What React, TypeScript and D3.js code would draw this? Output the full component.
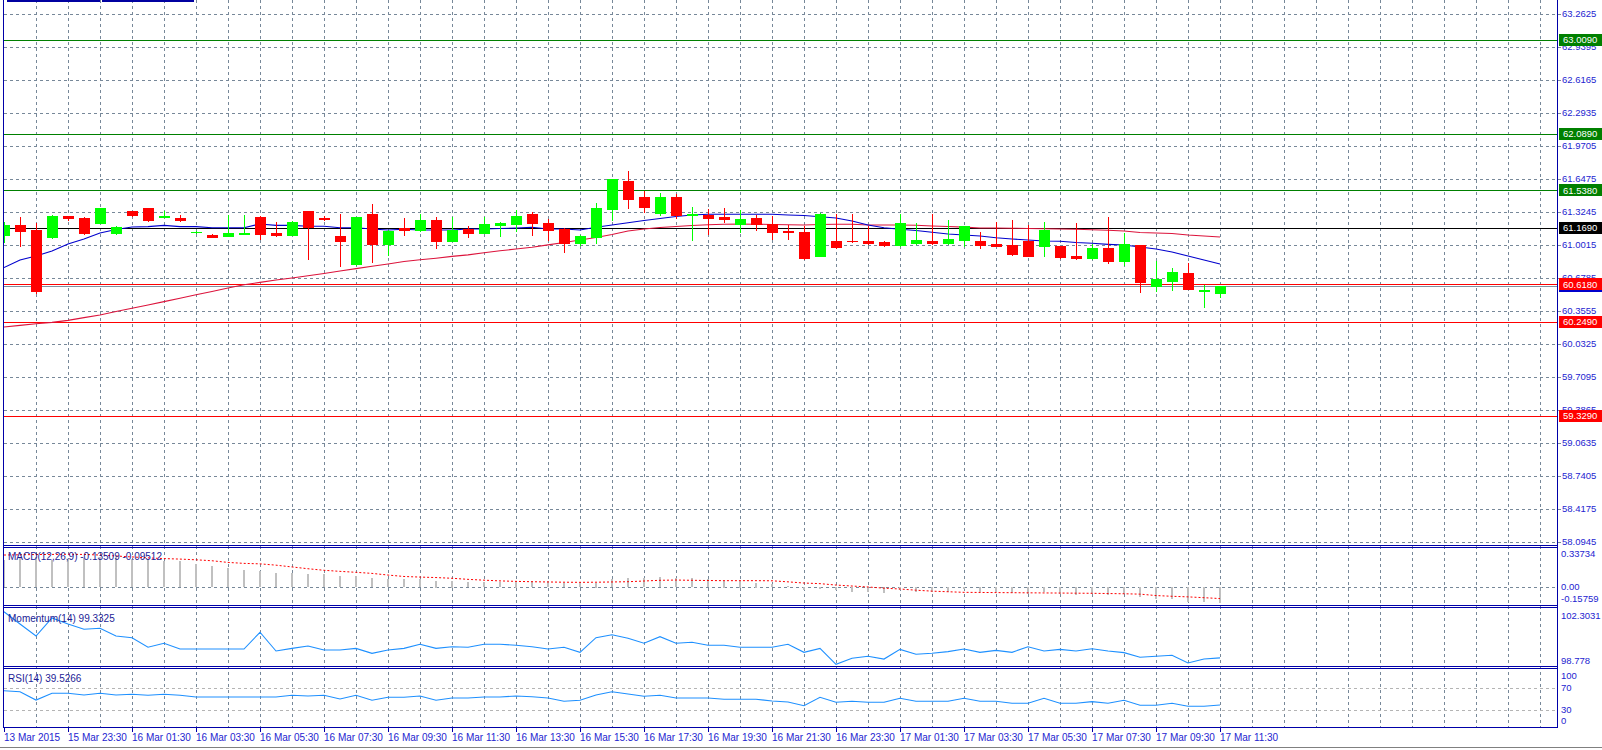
import React from 'react';
import * as d3 from 'd3';

// ---------- DATA ----------
const timeLabels = [
  '13 Mar 2015', '15 Mar 23:30', '16 Mar 01:30', '16 Mar 03:30', '16 Mar 05:30',
  '16 Mar 07:30', '16 Mar 09:30', '16 Mar 11:30', '16 Mar 13:30', '16 Mar 15:30',
  '16 Mar 17:30', '16 Mar 19:30', '16 Mar 21:30', '16 Mar 23:30', '17 Mar 01:30',
  '17 Mar 03:30', '17 Mar 05:30', '17 Mar 07:30', '17 Mar 09:30', '17 Mar 11:30',
];

const openP = [
  61.099, 61.197, 61.148, 61.080, 61.285, 61.266, 61.217, 61.119, 61.334, 61.364,
  61.280, 61.266, 61.124, 61.099, 61.090, 61.114, 61.276, 61.119, 61.099, 61.334,
  61.266, 61.090, 60.816, 61.305, 61.011, 61.165, 61.148, 61.246, 61.041, 61.161,
  61.122, 61.197, 61.207, 61.305, 61.217, 61.161, 61.021, 61.080, 61.354, 61.628,
  61.471, 61.315, 61.471, 61.298, 61.295, 61.276, 61.207, 61.266, 61.207, 61.134,
  61.129, 60.894, 61.041, 61.044, 61.041, 61.031, 61.001, 61.021, 61.041, 61.021,
  61.050, 61.041, 61.011, 61.001, 61.041, 60.992, 60.992, 60.894, 60.874, 60.972,
  60.845, 61.001, 60.600, 60.649, 60.727, 60.556, 60.532,
];
const highP = [
  61.230, 61.276, 61.214, 61.295, 61.290, 61.271, 61.368, 61.183, 61.339, 61.368,
  61.334, 61.295, 61.134, 61.109, 61.295, 61.295, 61.285, 61.227, 61.232, 61.339,
  61.285, 61.305, 61.280, 61.403, 61.144, 61.266, 61.305, 61.272, 61.276, 61.187,
  61.276, 61.222, 61.344, 61.325, 61.256, 61.168, 61.095, 61.413, 61.652, 61.726,
  61.530, 61.510, 61.501, 61.373, 61.354, 61.364, 61.344, 61.295, 61.285, 61.197,
  61.187, 61.310, 61.305, 61.305, 61.187, 61.036, 61.305, 61.217, 61.305, 61.246,
  61.192, 61.129, 61.227, 61.246, 61.197, 61.227, 60.996, 61.217, 61.011, 61.276,
  61.119, 61.006, 60.845, 60.776, 60.822, 60.610, 60.605,
];
const lowP = [
  61.034, 60.995, 60.529, 61.070, 61.246, 61.114, 61.212, 61.114, 61.290, 61.241,
  61.276, 61.241, 61.119, 61.075, 61.085, 61.109, 61.060, 61.090, 61.095, 60.864,
  61.246, 60.796, 60.806, 60.835, 60.904, 61.099, 61.143, 60.977, 61.036, 61.080,
  61.119, 61.090, 61.139, 61.099, 61.050, 60.936, 61.001, 61.021, 61.246, 61.364,
  61.324, 61.295, 61.266, 61.050, 61.109, 61.227, 61.129, 61.148, 61.060, 61.060,
  60.869, 60.889, 60.977, 61.031, 61.016, 60.996, 60.996, 61.011, 61.016, 61.016,
  60.992, 60.972, 60.987, 60.908, 60.889, 60.894, 60.879, 60.864, 60.869, 60.825,
  60.806, 60.539, 60.551, 60.561, 60.566, 60.398, 60.492,
];
const closeP = [
  61.197, 61.141, 60.554, 61.285, 61.266, 61.119, 61.364, 61.178, 61.295, 61.246,
  61.285, 61.246, 61.129, 61.080, 61.119, 61.119, 61.109, 61.099, 61.227, 61.178,
  61.259, 61.041, 61.276, 61.011, 61.139, 61.148, 61.246, 61.041, 61.148, 61.122,
  61.207, 61.217, 61.285, 61.217, 61.148, 61.021, 61.090, 61.364, 61.647, 61.452,
  61.373, 61.471, 61.295, 61.302, 61.266, 61.256, 61.256, 61.207, 61.129, 61.126,
  60.874, 61.305, 60.982, 61.038, 61.021, 61.001, 61.217, 61.050, 61.021, 61.060,
  61.187, 61.001, 60.992, 60.913, 60.894, 61.148, 60.884, 60.874, 60.972, 60.845,
  61.011, 60.639, 60.669, 60.737, 60.571, 60.561, 60.600,
];

const maFast = [
  60.781, 60.855, 60.894, 60.943, 61.011, 61.060, 61.119, 61.153, 61.178, 61.181,
  61.194, 61.181, 61.181, 61.171, 61.171, 61.171, 61.207, 61.194, 61.194, 61.185,
  61.185, 61.171, 61.171, 61.158, 61.148, 61.155, 61.148, 61.148, 61.148, 61.158,
  61.158, 61.163, 61.168, 61.175, 61.158, 61.158, 61.148, 61.175, 61.197, 61.220,
  61.241, 61.261, 61.280, 61.295, 61.302, 61.302, 61.302, 61.302, 61.302, 61.295,
  61.290, 61.278, 61.266, 61.236, 61.197, 61.171, 61.155, 61.143, 61.126, 61.109,
  61.099, 61.090, 61.073, 61.060, 61.050, 61.041, 61.038, 61.026, 61.018, 61.008,
  61.001, 60.982, 60.962, 60.933, 60.894, 60.855, 60.816,
];
const maSlow = [
  60.199, 60.215, 60.230, 60.244, 60.264, 60.291, 60.316, 60.350, 60.383, 60.414,
  60.447, 60.481, 60.514, 60.546, 60.581, 60.612, 60.636, 60.659, 60.678, 60.700,
  60.723, 60.747, 60.770, 60.793, 60.816, 60.840, 60.857, 60.872, 60.890, 60.905,
  60.925, 60.945, 60.962, 60.980, 61.003, 61.026, 61.050, 61.075, 61.104, 61.138,
  61.158, 61.173, 61.182, 61.192, 61.199, 61.205, 61.207, 61.205, 61.202, 61.199,
  61.197, 61.202, 61.205, 61.205, 61.197, 61.197, 61.197, 61.195, 61.187, 61.182,
  61.176, 61.168, 61.168, 61.166, 61.163, 61.160, 61.158, 61.156, 61.151, 61.146,
  61.138, 61.124, 61.119, 61.114, 61.099, 61.090, 61.080,
];

const macdMain = [
  0.228, 0.251, 0.251, 0.228, 0.234, 0.242, 0.251, 0.251, 0.237, 0.237,
  0.222, 0.220, 0.195, 0.178, 0.161, 0.144, 0.136, 0.119, 0.117, 0.108,
  0.108, 0.094, 0.094, 0.077, 0.069, 0.069, 0.066, 0.055, 0.055, 0.044,
  0.044, 0.044, 0.055, 0.049, 0.049, 0.033, 0.033, 0.038, 0.071, 0.077,
  0.077, 0.088, 0.077, 0.077, 0.071, 0.055, 0.055, 0.038, 0.027, 0.010,
  -0.029, -0.013, -0.023, -0.038, -0.043, -0.051, -0.029, -0.043, -0.043, -0.038,
  -0.018, -0.038, -0.043, -0.051, -0.060, -0.046, -0.057, -0.065, -0.057, -0.065,
  -0.060, -0.085, -0.102, -0.102, -0.122, -0.127, -0.13509,
];
const macdSignal = [
  0.270, 0.272, 0.274, 0.275, 0.276, 0.275, 0.270, 0.262, 0.254, 0.246,
  0.240, 0.236, 0.230, 0.222, 0.208, 0.200, 0.196, 0.185, 0.170, 0.155,
  0.142, 0.133, 0.125, 0.116, 0.102, 0.090, 0.085, 0.081, 0.075, 0.066,
  0.059, 0.053, 0.049, 0.046, 0.044, 0.042, 0.041, 0.042, 0.044, 0.046,
  0.052, 0.058, 0.060, 0.058, 0.056, 0.055, 0.055, 0.055, 0.054, 0.045,
  0.035, 0.030, 0.018, 0.010, 0.002, -0.008, -0.015, -0.025, -0.033, -0.038,
  -0.043, -0.044, -0.045, -0.046, -0.047, -0.048, -0.049, -0.050, -0.051, -0.053,
  -0.055, -0.058, -0.070, -0.076, -0.081, -0.088, -0.09512,
];
const momentum = [
  102.14, 101.39, 100.66, 101.76, 101.39, 101.07, 101.13, 100.66, 100.56, 99.98,
  100.22, 99.87, 99.87, 99.87, 99.87, 99.87, 100.89, 99.75, 99.91, 100.05,
  99.81, 99.81, 99.91, 99.61, 99.81, 99.91, 100.16, 99.91, 100.01, 99.98,
  100.16, 100.16, 100.10, 100.01, 99.87, 99.98, 99.67, 100.56, 100.74, 100.52,
  100.22, 100.62, 100.22, 100.28, 100.10, 100.10, 99.98, 99.98, 99.98, 100.16,
  99.67, 99.91, 98.94, 99.31, 99.43, 99.26, 99.85, 99.55, 99.61, 99.71,
  99.87, 99.67, 99.79, 99.67, 100.01, 99.75, 99.85, 99.75, 99.89, 99.75,
  99.65, 99.37, 99.43, 99.49, 99.02, 99.26, 99.3325,
];
const rsi = [
  64.7, 62.9, 48.2, 60.1, 60.1, 57.1, 60.1, 57.1, 58.3, 56.5,
  58.3, 56.5, 53.5, 53.5, 53.5, 53.5, 53.5, 53.5, 56.5, 55.3,
  56.5, 50.0, 56.5, 47.7, 53.0, 53.0, 55.3, 47.7, 51.8, 51.8,
  53.5, 53.5, 55.3, 54.1, 51.8, 45.9, 47.7, 57.1, 62.9, 58.8,
  54.8, 56.5, 51.8, 51.8, 51.8, 49.5, 49.5, 49.5, 46.5, 44.7,
  38.2, 53.0, 44.2, 45.9, 44.2, 44.2, 51.2, 45.9, 45.9, 45.9,
  51.2, 45.9, 45.9, 42.4, 42.4, 51.2, 42.4, 42.4, 45.3, 42.4,
  47.7, 38.9, 38.9, 42.4, 37.1, 37.1, 39.5266,
];

const priceTicks = [
  63.2625, 62.9395, 62.6165, 62.2935, 61.9705, 61.6475, 61.3245, 61.0015, 60.6785,
  60.3555, 60.0325, 59.7095, 59.3865, 59.0635, 58.7405, 58.4175, 58.0945,
];
const levelValues = [63.009, 62.089, 61.538, 61.169, 60.618, 60.249, 59.329];
const levelColors = ['#008000', '#008000', '#008000', '#000000', '#FF0000', '#FF0000', '#FF0000'];
const macdAxis = [0.33734, 0.0, -0.15759];
const momAxis = [102.3031, 98.778];
const rsiAxis = [100, 70, 30, 0];
const rsiLevels = [70, 30];

// ---------- STYLE ----------
const FONT = "'Liberation Sans', Arial, sans-serif";
const AXIS_TXT = '#2424D0';
const LABEL_TXT = '#1C1C96';
const FRAME = '#0000A8';
const GRID = '#778899';
const BULL = '#00FF00';
const BEAR = '#FF0000';
const AFS = 9.5;

const px = (v: number) => Math.round(v) + 0.5;

export default function App() {
  const n = closeP.length;
  const x = d3.scaleLinear().domain([0, n - 1]).range([4, 1220]);
  const y = d3.scaleLinear().domain([58.0945, 63.2625]).range([542, 14]);
  const yMacd = d3.scaleLinear().domain([-0.15759, 0.33734]).range([606, 547]);
  const yMom = d3.scaleLinear().domain([98.778, 102.3031]).range([667, 609]);
  const yRsi = d3.scaleLinear().domain([0, 100]).range([727.3, 670.7]);

  const AX = 1557; // right axis x
  const gridIdx = d3.range(2, 97, 2);

  const lineFast = d3.line<number>().x((_, i) => x(i)).y((d) => y(d));
  const lineMacdSig = d3.line<number>().x((_, i) => x(i)).y((d) => yMacd(d));
  const lineMom = d3.line<number>().x((_, i) => x(i)).y((d) => yMom(d));
  const lineRsi = d3.line<number>().x((_, i) => x(i)).y((d) => yRsi(d));

  const lastClose = closeP[n - 1];
  const fmt4 = d3.format('.4f');

  const panels = [
    [0, 545.5],
    [547.5, 605.5],
    [607.5, 666.5],
    [668.5, 727.5],
  ];

  return (
    <svg
      width={1602}
      height={750}
      style={{ position: 'fixed', left: 0, top: 0, background: '#fff' }}
      fontFamily={FONT}
    >
      <defs>
        <clipPath id="cMain"><rect x={4} y={0} width={AX - 4} height={545} /></clipPath>
        <clipPath id="cMacd"><rect x={4} y={548} width={AX - 4} height={57} /></clipPath>
        <clipPath id="cMom"><rect x={4} y={608} width={AX - 4} height={58} /></clipPath>
        <clipPath id="cRsi"><rect x={4} y={669} width={AX - 4} height={58} /></clipPath>
      </defs>
      <rect x={0} y={0} width={1602} height={750} fill="#fff" />

      {/* vertical grid */}
      {gridIdx.map((g) => (
        <line key={'vg' + g} x1={px(x(g))} x2={px(x(g))} y1={0} y2={727}
          stroke={GRID} strokeDasharray="3,3" />
      ))}

      {/* main horizontal grid + ticks */}
      {priceTicks.map((t) => (
        <g key={'pt' + t}>
          <line x1={4} x2={AX} y1={px(y(t))} y2={px(y(t))} stroke={GRID} strokeDasharray="3,3" />
          <line x1={AX} x2={AX + 4} y1={px(y(t))} y2={px(y(t))} stroke={GRID} />
          <text x={1562} y={y(t)} dy="0.35em" fontSize={AFS} fill={AXIS_TXT}>{fmt4(t)}</text>
        </g>
      ))}

      {/* MACD zero & RSI levels */}
      <line x1={4} x2={AX} y1={px(yMacd(0))} y2={px(yMacd(0))} stroke={GRID} strokeDasharray="3,3" />
      {rsiLevels.map((l) => (
        <line key={'rl' + l} x1={4} x2={AX} y1={px(yRsi(l))} y2={px(yRsi(l))} stroke="#B4B4B4" strokeDasharray="3,3" />
      ))}

      {/* main chart */}
      <g clipPath="url(#cMain)">
        {levelValues.map((v, i) => (
          <line key={'lv' + v} x1={4} x2={AX} y1={px(y(v))} y2={px(y(v))} stroke={levelColors[i]} />
        ))}
        <line x1={4} x2={AX} y1={px(y(lastClose))} y2={px(y(lastClose))} stroke="#8090A0" />
        <path d={lineFast(maSlow) || ''} fill="none" stroke="#DC143C" strokeWidth={1.1} />
        <path d={lineFast(maFast) || ''} fill="none" stroke="#0000CD" strokeWidth={1.1} />
        {openP.map((o, i) => {
          const c = closeP[i];
          const bull = c >= o;
          const col = bull ? BULL : BEAR;
          const cx = Math.round(x(i));
          const yT = Math.round(y(Math.max(o, c)));
          const yB = Math.round(y(Math.min(o, c)));
          const yH = Math.round(y(highP[i]));
          const yL = Math.round(y(lowP[i]));
          return (
            <g key={'c' + i}>
              <rect x={cx} y={yH} width={1} height={Math.max(1, yL - yH + 1)} fill={col} />
              <rect x={cx - 5} y={yT} width={11} height={Math.max(1, yB - yT + 1)} fill={col} />
            </g>
          );
        })}
      </g>

      {/* MACD */}
      <g clipPath="url(#cMacd)">
        {macdMain.map((v, i) => {
          const y0 = yMacd(0);
          const yv = yMacd(v);
          const top = Math.round(Math.min(y0, yv));
          const h = Math.max(1, Math.round(Math.abs(yv - y0)));
          return <rect key={'m' + i} x={Math.round(x(i)) - 1} y={top} width={2} height={h} fill="#C0C0C0" />;
        })}
        <path d={lineMacdSig(macdSignal) || ''} fill="none" stroke="#FF0000" strokeDasharray="2,2" />
      </g>

      {/* Momentum */}
      <g clipPath="url(#cMom)">
        <path d={lineMom(momentum) || ''} fill="none" stroke="#1E90FF" strokeWidth={1.1} />
      </g>

      {/* RSI */}
      <g clipPath="url(#cRsi)">
        <path d={lineRsi(rsi) || ''} fill="none" stroke="#1E90FF" strokeWidth={1.1} />
      </g>

      {/* panel frames */}
      {panels.map(([a, b], i) => (
        <g key={'pf' + i}>
          {i > 0 && <line x1={3} x2={AX + 1} y1={a} y2={a} stroke={FRAME} />}
          <line x1={3} x2={AX + 1} y1={b} y2={b} stroke={FRAME} />
        </g>
      ))}
      <line x1={3.5} x2={3.5} y1={0} y2={728} stroke={FRAME} />
      <line x1={AX + 0.5} x2={AX + 0.5} y1={0} y2={728} stroke={FRAME} />

      {/* top-left bars */}
      <rect x={7} y={0} width={93} height={2} fill="#0000A0" />
      <rect x={102} y={0} width={92} height={2} fill="#0000A0" />

      {/* level label boxes */}
      <rect x={1559} y={Math.round(y(lastClose)) - 6} width={43} height={12} fill="#0000CC" />
      {levelValues.map((v, i) => (
        <g key={'lb' + v}>
          <rect x={1559} y={Math.round(y(v)) - 6} width={43} height={12} fill={levelColors[i]} />
          <text x={1563} y={y(v)} dy="0.35em" fontSize={AFS} fill="#fff">{fmt4(v)}</text>
        </g>
      ))}

      {/* sub-panel axis labels */}
      <text x={1561} y={554} dy="0.35em" fontSize={AFS} fill={AXIS_TXT}>{macdAxis[0].toFixed(5)}</text>
      <text x={1561} y={587} dy="0.35em" fontSize={AFS} fill={AXIS_TXT}>{macdAxis[1].toFixed(2)}</text>
      <text x={1561} y={599} dy="0.35em" fontSize={AFS} fill={AXIS_TXT}>{macdAxis[2].toFixed(5)}</text>
      <text x={1561} y={615.7} dy="0.35em" fontSize={AFS} fill={AXIS_TXT}>{momAxis[0].toFixed(4)}</text>
      <text x={1561} y={660.7} dy="0.35em" fontSize={AFS} fill={AXIS_TXT}>{momAxis[1].toFixed(3)}</text>
      {rsiAxis.map((r, i) => (
        <text key={'ra' + r} x={1561} y={[676, 687.3, 709.3, 721][i]} dy="0.35em" fontSize={AFS} fill={AXIS_TXT}>{r}</text>
      ))}

      {/* panel titles */}
      <text x={8} y={556.5} dy="0.35em" fontSize={10} fill={LABEL_TXT}>
        {`MACD(12,26,9) ${macdMain[n - 1].toFixed(5)} ${macdSignal[n - 1].toFixed(5)}`}
      </text>
      <text x={8} y={618} dy="0.35em" fontSize={10} fill={LABEL_TXT}>
        {`Momentum(14) ${momentum[n - 1].toFixed(4)}`}
      </text>
      <text x={8} y={678} dy="0.35em" fontSize={10} fill={LABEL_TXT}>
        {`RSI(14) ${rsi[n - 1].toFixed(4)}`}
      </text>

      {/* time axis */}
      {timeLabels.map((t, k) => {
        const xx = Math.round(x(k * 4));
        return (
          <g key={'tl' + k}>
            <line x1={xx + 0.5} x2={xx + 0.5} y1={728} y2={732} stroke={FRAME} />
            <text x={xx} y={737.5} dy="0.35em" fontSize={10} fill={AXIS_TXT}>{t}</text>
          </g>
        );
      })}

      <line x1={0} x2={1602} y1={747.5} y2={747.5} stroke="#808080" />
    </svg>
  );
}
